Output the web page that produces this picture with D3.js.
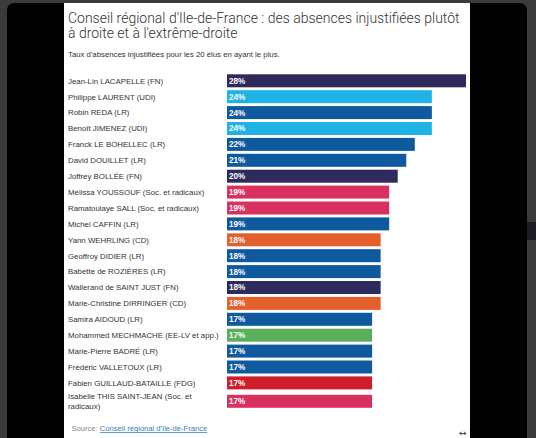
<!DOCTYPE html>
<html>
<head>
<meta charset="utf-8">
<script src="https://cdn.jsdelivr.net/npm/d3@7"></script>
<style>
  body { margin: 0; background: #3b3b3b; overflow: hidden; }
  text { font-family: "Liberation Sans", Arial, Helvetica, sans-serif; }
  .title { font-family: Roboto, "Liberation Sans", Arial, sans-serif; font-weight: 300; }
</style>
</head>
<body>
<svg id="chart" width="536" height="438"></svg>
<script>
// DATA
const names = [
  'Jean-Lin LACAPELLE', 'Philippe LAURENT', 'Robin REDA', 'Benoît JIMENEZ',
  'Franck LE BOHELLEC', 'David DOUILLET', 'Joffrey BOLLÉE', 'Mélissa YOUSSOUF',
  'Ramatoulaye SALL', 'Michel CAFFIN', 'Yann WEHRLING', 'Geoffroy DIDIER',
  'Babette de ROZIÈRES', 'Wallerand de SAINT JUST', 'Marie-Christine DIRRINGER',
  'Samira AIDOUD', 'Mohammed MECHMACHE', 'Marie-Pierre BADRÉ', 'Frédéric VALLETOUX',
  'Fabien GUILLAUD-BATAILLE', 'Isabelle THIS SAINT-JEAN'
];
const parties = [
  'FN', 'UDI', 'LR', 'UDI', 'LR', 'LR', 'FN', 'Soc. et radicaux',
  'Soc. et radicaux', 'LR', 'CD', 'LR', 'LR', 'FN', 'CD',
  'LR', 'EE-LV et app.', 'LR', 'LR', 'FDG', 'Soc. et radicaux'
];
const values = [28, 24, 24, 24, 22, 21, 20, 19, 19, 19, 18, 18, 18, 18, 18, 17, 17, 17, 17, 17, 17];
const partyList = ['FN', 'UDI', 'LR', 'Soc. et radicaux', 'CD', 'EE-LV et app.', 'FDG'];
const partyColorList = ['#2e2b5c', '#1fb3e5', '#0f5a9f', '#d9315f', '#e3602d', '#5aaf5c', '#d01d2b'];

const titleLines = ["Conseil régional d'Ile-de-France : des absences injustifiées plutôt", "à droite et à l'extrême-droite"];
const subtitle = "Taux d'absences injustifiées pour les 20 élus en ayant le plus.";
const sourceLabel = 'Source: ';
const sourceLink = "Conseil régional d'Ile-de-France";

const svg = d3.select('#chart');
const color = d3.scaleOrdinal().domain(partyList).range(partyColorList);

// background frame (page behind the overlay)
svg.append('rect').attr('x', 527).attr('y', 222).attr('width', 9).attr('height', 18).attr('fill', '#1c1c22');
svg.append('rect').attr('x', 7).attr('y', 3).attr('width', 520).attr('height', 450).attr('rx', 7).attr('fill', '#000');
svg.append('rect').attr('x', 64).attr('y', 3).attr('width', 406).attr('height', 440).attr('fill', '#fff');

// fit a text to a measured width
function fitWidth(sel, target) {
  let w = sel.node().getComputedTextLength();
  let fs = parseFloat(sel.attr('font-size'));
  return fs * target / w;
}

// Title
let t1 = svg.append('text').attr('class', 'title').attr('x', 68).attr('y', 22.5).attr('font-size', 14)
  .attr('fill', '#333').text(titleLines[0]);
let titleSize = fitWidth(t1, 392);
t1.attr('font-size', titleSize);
svg.append('text').attr('class', 'title').attr('x', 68).attr('y', 37.5).attr('font-size', titleSize)
  .attr('fill', '#333').text(titleLines[1]);

let st = svg.append('text').attr('x', 68).attr('y', 56.5).attr('font-size', 8)
  .attr('fill', '#333').text(subtitle);
st.attr('font-size', fitWidth(st, 212));

// Row layout
const labelX = 68, labelMax = 156, lineH = 9.4, barH = 13, rowMin = 15.9, top0 = 72.85;
const labelSize = 7.85;

function wrap(str) {
  let words = str.split(' '), lines = [], cur = '';
  let probe = svg.append('text').attr('font-size', labelSize);
  words.forEach(function(w) {
    let test = cur ? cur + ' ' + w : w;
    probe.text(test);
    if (probe.node().getComputedTextLength() > labelMax && cur) { lines.push(cur); cur = w; }
    else { cur = test; }
  });
  lines.push(cur);
  probe.remove();
  return lines;
}

const rows = names.map(function(n, i) {
  let lines = wrap(n + ' (' + parties[i] + ')');
  return { name: n, party: parties[i], value: values[i], lines: lines, h: Math.max(rowMin, lines.length * lineH + 2.1) };
});
const tops = [top0].concat(Array.from(d3.cumsum(rows, function(d) { return d.h; })).map(function(c) { return top0 + c; }));
rows.forEach(function(d, i) { d.top = tops[i]; d.mid = tops[i] + d.h / 2; });

const x = d3.scaleLinear().domain([0, d3.max(values)]).range([227, 466]);

const row = svg.append('g').selectAll('g').data(rows).join('g');

row.append('rect')
  .attr('x', x(0))
  .attr('y', function(d) { return d.mid - barH / 2; })
  .attr('width', function(d) { return x(d.value) - x(0); })
  .attr('height', barH)
  .attr('fill', function(d) { return color(d.party); });

row.append('text')
  .attr('x', x(0) + 2)
  .attr('y', function(d) { return d.mid; })
  .attr('dy', '0.36em')
  .attr('font-size', 8.2)
  .attr('font-weight', 'bold')
  .attr('fill', '#fff')
  .text(function(d) { return d.value + '%'; });

row.append('text')
  .attr('font-size', labelSize)
  .attr('fill', '#333')
  .each(function(d) {
    let t = d3.select(this);
    d.lines.forEach(function(l, k) {
      t.append('tspan').attr('x', labelX)
        .attr('y', d.mid + (k - (d.lines.length - 1) / 2) * lineH)
        .attr('dy', '0.36em').text(l);
    });
  });

// Source
let src = svg.append('text').attr('x', 71.5).attr('y', 431).attr('font-size', 7.6).attr('fill', '#888');
src.append('tspan').text(sourceLabel);
src.append('tspan').attr('fill', '#2f7fc1').attr('text-decoration', 'underline').text(sourceLink);

svg.append('text').attr('x', 459).attr('y', 436).attr('font-size', 9)
  .style('font-family', '"DejaVu Sans", sans-serif').attr('fill', '#333').text('↔');
</script>
</body>
</html>
